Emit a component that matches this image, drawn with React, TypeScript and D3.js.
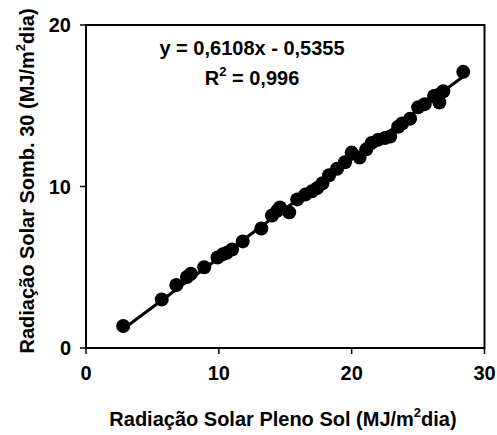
import React from "react";
import * as d3 from "d3";

const pleno = [2.8, 5.7, 6.8, 7.6, 7.9, 8.9, 9.9, 10.3, 10.6, 11.0, 11.8, 13.2, 14.0, 14.4, 14.6, 15.3, 15.9, 16.5, 17.0, 17.4, 17.8, 18.3, 18.9, 19.5, 20.0, 20.6, 21.1, 21.5, 22.0, 22.5, 22.9, 23.5, 23.8, 24.4, 25.0, 25.5, 26.2, 26.6, 26.6, 26.9, 28.4];
const somb = [1.36, 3.0, 3.9, 4.4, 4.6, 5.0, 5.6, 5.8, 5.9, 6.1, 6.6, 7.4, 8.2, 8.5, 8.7, 8.4, 9.2, 9.5, 9.7, 9.9, 10.2, 10.7, 11.1, 11.5, 12.1, 11.8, 12.3, 12.7, 12.9, 13.0, 13.1, 13.7, 13.9, 14.2, 14.9, 15.1, 15.6, 15.7, 15.2, 15.9, 17.1];
const xTicks = [0, 10, 20, 30];
const yTicks = [0, 10, 20];
const slope = 0.6108;
const intercept = -0.5355;

export default function App() {
  const W = 497, H = 435;
  const x = d3.scaleLinear().domain([0, 30]).range([86, 484.5]);
  const y = d3.scaleLinear().domain([0, 20]).range([348, 25]);
  const x0 = d3.min(pleno)!, x1 = d3.max(pleno)!;
  const font = "Arial, 'Liberation Sans', sans-serif";
  return (
    <svg width={W} height={H} style={{ position: "absolute", left: 0, top: 0 }} fontFamily={font} fontWeight="bold">
      <rect x={0} y={0} width={W} height={H} fill="#fff" />
      <line x1={x(x0)} y1={y(slope * x0 + intercept)} x2={x(x1)} y2={y(slope * x1 + intercept)} stroke="#000" strokeWidth={3} />
      {pleno.map((v, i) => (
        <circle key={i} cx={x(v)} cy={y(somb[i])} r={7} fill="#000" />
      ))}
      <rect x={x(0)} y={y(20)} width={x(30) - x(0)} height={y(0) - y(20)} fill="none" stroke="#000" strokeWidth={2} />
      {xTicks.map((t) => (
        <g key={t}>
          <line x1={x(t)} x2={x(t)} y1={y(0)} y2={y(0) + 6} stroke="#000" strokeWidth={1.5} />
          <text x={x(t)} y={380} textAnchor="middle" fontSize={20}>{t}</text>
        </g>
      ))}
      {yTicks.map((t) => (
        <g key={t}>
          <line x1={x(0) - 6} x2={x(0)} y1={y(t)} y2={y(t)} stroke="#000" strokeWidth={1.5} />
          <text x={71} y={y(t) + 7} textAnchor="end" fontSize={20}>{t}</text>
        </g>
      ))}
      <text x={283} y={426} textAnchor="middle" fontSize={20}>
        Radiação Solar Pleno Sol (MJ/m<tspan dy={-9} fontSize={13}>2</tspan><tspan dy={9}>dia)</tspan>
      </text>
      <text transform={`translate(34,181) rotate(-90)`} textAnchor="middle" fontSize={20}>
        Radiação Solar Somb. 30 (MJ/m<tspan dy={-9} fontSize={13}>2</tspan><tspan dy={9}>dia)</tspan>
      </text>
      <text x={252} y={55} textAnchor="middle" fontSize={20}>y = 0,6108x - 0,5355</text>
      <text x={252} y={85} textAnchor="middle" fontSize={20}>
        R<tspan dy={-9} fontSize={13}>2</tspan><tspan dy={9}> = 0,996</tspan>
      </text>
    </svg>
  );
}
